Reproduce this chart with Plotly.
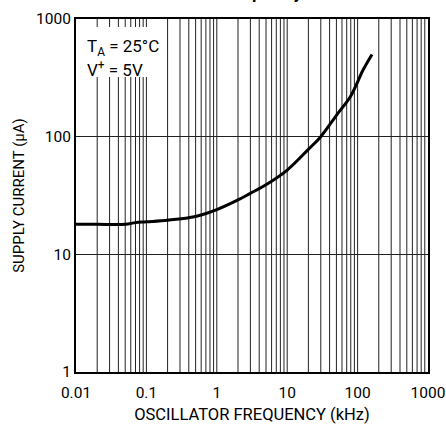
import plotly.graph_objects as go

# Supply current vs oscillator frequency
freq_khz = [0.01, 0.02, 0.05, 0.07, 0.1, 0.2, 0.5, 1, 2, 3, 5, 10, 20, 30, 50, 80, 120, 160]
supply_ua = [18, 18, 18, 18.6, 18.9, 19.5, 21, 24, 29, 33, 39, 52, 78, 100, 152, 222, 370, 500]

x_ticks = [0.01, 0.1, 1, 10, 100, 1000]
x_tick_text = ["0.01", "0.1", "1", "10", "100", "1000"]
y_ticks = [1, 10, 100, 1000]
y_tick_text = ["1", "10", "100", "1000"]

FONT = "Roboto, Liberation Sans Narrow, sans-serif"

# minor grid: every 1..9 within each decade
x_grid = [m * 10 ** e for e in range(-2, 3) for m in range(1, 10)]

fig = go.Figure()

fig.add_trace(go.Scatter(
    x=freq_khz,
    y=supply_ua,
    mode='lines',
    line=dict(color='black', width=3, shape='spline', smoothing=1.0),
    showlegend=False,
    hoverinfo='skip'
))

fig.update_xaxes(
    type='log',
    range=[-2, 3],
    tickvals=x_ticks,
    ticktext=x_tick_text,
    showgrid=False,
    ticks='',
    ticklabelstandoff=5,
    automargin=False,
    showline=True, linecolor='black', linewidth=2, mirror=True,
    title=dict(text="OSCILLATOR FREQUENCY (kHz)", standoff=12, font=dict(size=16.5)),
    tickfont=dict(size=15.5),
)
fig.update_yaxes(
    type='log',
    range=[0, 3],
    tickvals=y_ticks,
    ticktext=y_tick_text,
    showgrid=True, gridcolor='#222222', gridwidth=1,
    ticks='',
    automargin=False,
    showline=True, linecolor='black', linewidth=2, mirror=True,
    title=dict(text="SUPPLY CURRENT (\u00b5A)", standoff=8, font=dict(size=15)),
    tickfont=dict(size=15.5),
)

# vertical grid lines at every minor decade step
for gx in x_grid[1:]:
    fig.add_shape(type='line', xref='x', yref='paper', x0=gx, x1=gx, y0=0, y1=1,
                  line=dict(color='#222222', width=1), layer='below')

# white box behind conditions text
fig.add_shape(type='rect', xref='paper', yref='paper',
              x0=0.006, x1=0.247, y0=0.836, y1=0.977,
              fillcolor='white', line=dict(width=0), layer='above')

fig.add_annotation(text="T<sub>A</sub> = 25\u00b0C", xref='paper', yref='paper',
                   x=0.025, y=0.918, xanchor='left', yanchor='middle',
                   showarrow=False, font=dict(size=17))
fig.add_annotation(text="V<sup>+</sup> = 5V", xref='paper', yref='paper',
                   x=0.025, y=0.858, xanchor='left', yanchor='middle',
                   showarrow=False, font=dict(size=17))

# clipped chart title (only the bottom of the second line shows)
fig.add_annotation(text="<b>Oscillator Frequency</b>", xref='paper', yref='paper',
                   x=0.5, y=1.041, xanchor='center', yanchor='bottom', xshift=-28,
                   showarrow=False, font=dict(size=17))

fig.update_layout(
    width=446, height=424,
    margin=dict(l=76, r=18, t=19, b=52),
    paper_bgcolor='white',
    plot_bgcolor='white',
    font=dict(family=FONT, size=16, color='black'),
)

fig.write_html("out.html", config={'displayModeBar': False},
               post_script="document.body.style.margin='0';")
